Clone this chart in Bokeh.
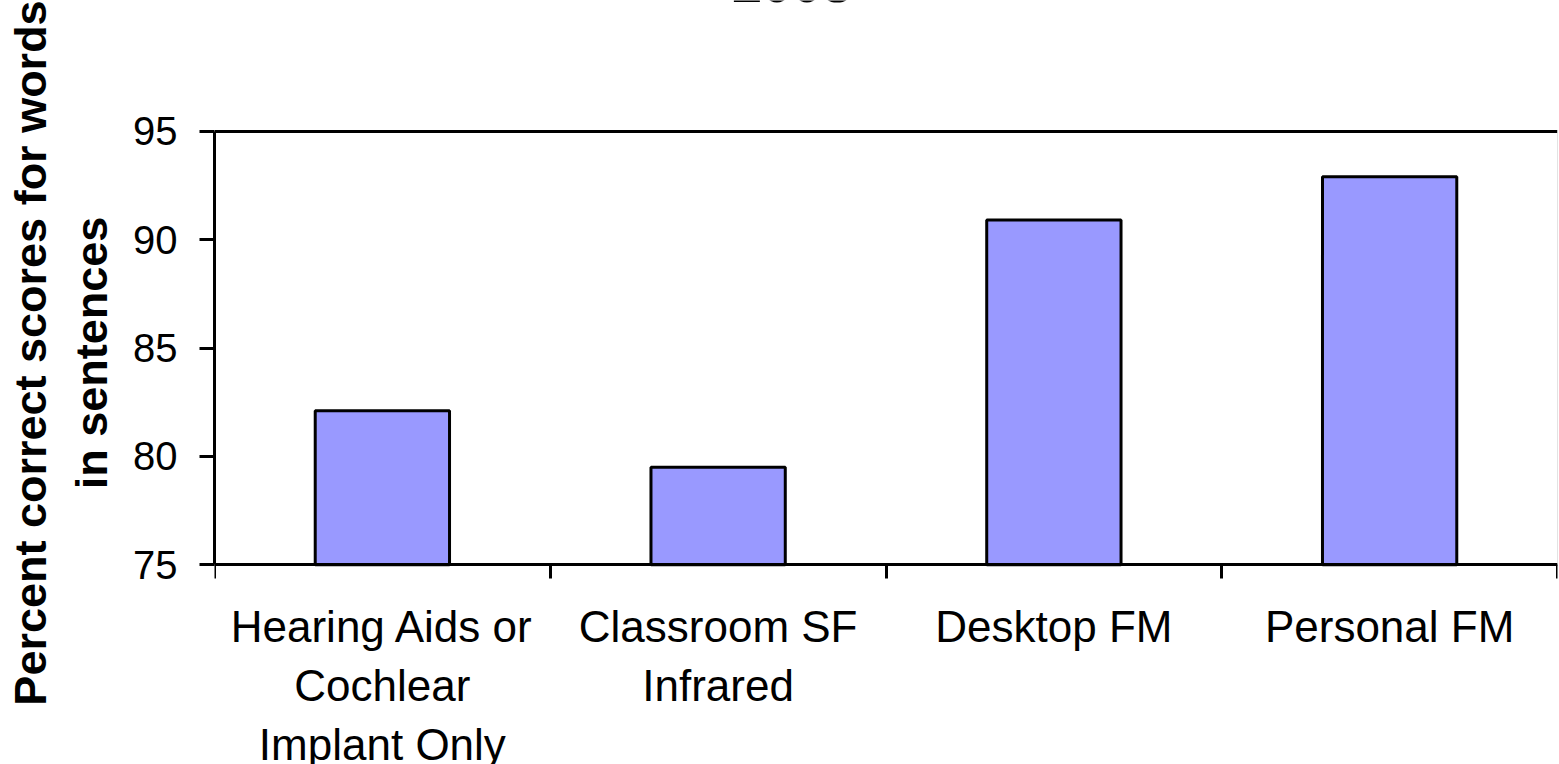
from bokeh.plotting import figure
from bokeh.models import Range1d, FixedTicker, Label
from bokeh.embed import file_html
from bokeh.resources import INLINE

# ---- data ----
categories = ["Hearing Aids or\nCochlear\nImplant Only", "Classroom SF\nInfrared", "Desktop FM", "Personal FM"]
scores = [82.1, 79.5, 90.9, 92.9]
y_ticks = [75, 80, 85, 90, 95]
title_text = "2008"
y_title_lines = ["Percent correct scores for words", "in sentences"]

n = len(categories)
centers = [i + 0.5 for i in range(n)]
bounds = list(range(n + 1))
y_lo, y_hi = y_ticks[0], y_ticks[-1]

FONT = "Liberation Sans"

# layout (pixels): plot area 95 -> 130.7, 75 -> 564.3 on a 764 px tall canvas
W, H = 1559, 764
TOP_PX, BOT_PX = 130.7, 564.3
ppu = (BOT_PX - TOP_PX) / (y_hi - y_lo)
y_start = y_lo - (H - BOT_PX) / ppu
y_end = y_hi + TOP_PX / ppu

p = figure(width=W, height=H, output_backend="svg", toolbar_location=None,
           x_range=Range1d(0, n), y_range=Range1d(y_start, y_end),
           x_axis_location="above",
           min_border_left=214, min_border_right=2, min_border_top=0, min_border_bottom=0,
           background_fill_color="white", border_fill_color="white")
p.outline_line_color = None
p.xgrid.visible = False
p.ygrid.ticker = FixedTicker(ticks=[y_hi])
p.ygrid.grid_line_color = "black"
p.ygrid.grid_line_width = 3

p.vbar(x=centers, top=scores, bottom=y_lo, width=0.4,
       fill_color="#9999FF", line_color="black", line_width=3)

# faint right border of the plot area
p.segment(x0=[n], y0=[y_lo], x1=[n], y1=[y_hi], line_color="#C8C8C8", line_width=1)

# x axis line at 75 with tick marks between categories
xa = p.xaxis[0]
xa.fixed_location = y_lo
xa.ticker = FixedTicker(ticks=[], minor_ticks=bounds)
xa.major_tick_out = 0
xa.major_tick_in = 0
xa.major_label_standoff = 0
xa.minor_tick_line_color = "black"
xa.minor_tick_line_width = 3
xa.minor_tick_in = 14
xa.minor_tick_out = 0
xa.axis_line_width = 3
xa.axis_line_color = "black"

# category labels centred under the bars
for cx, cat in zip(centers, categories):
    p.add_layout(Label(x=cx, y=y_lo, y_offset=-37, text=cat,
                       text_font=FONT, text_font_size="44px", text_color="black",
                       text_align="center", text_baseline="top", text_line_height=1.21))

# y axis
ya = p.yaxis[0]
ya.bounds = (y_lo, y_hi)
ya.ticker = FixedTicker(ticks=y_ticks)
ya.major_tick_out = 15
ya.major_tick_in = 0
ya.major_tick_line_width = 3
ya.minor_tick_line_color = None
ya.axis_line_width = 3
ya.axis_line_color = "black"
ya.major_label_text_font = FONT
ya.major_label_text_font_size = "40px"
ya.major_label_text_color = "black"
ya.major_label_standoff = 22
# leading no-break spaces move the centred title up to the middle of the 75-95 span
pad = "\u00a0" * 4 + "\u2009"
ya.axis_label = "\n".join(pad + line for line in y_title_lines)
ya.axis_label_text_font = FONT
ya.axis_label_text_font_size = "45px"
ya.axis_label_text_font_style = "bold"
ya.axis_label_text_color = "black"
ya.axis_label_standoff = 13

# title, mostly cut off at the top edge as in the reference
p.add_layout(Label(x=1.72, y=y_hi, y_offset=148, text=title_text,
                   text_font=FONT, text_font_size="54px", text_font_style="bold",
                   text_color="black", text_align="center", text_baseline="alphabetic"))

open("out.html", "w").write(file_html(p, INLINE))
